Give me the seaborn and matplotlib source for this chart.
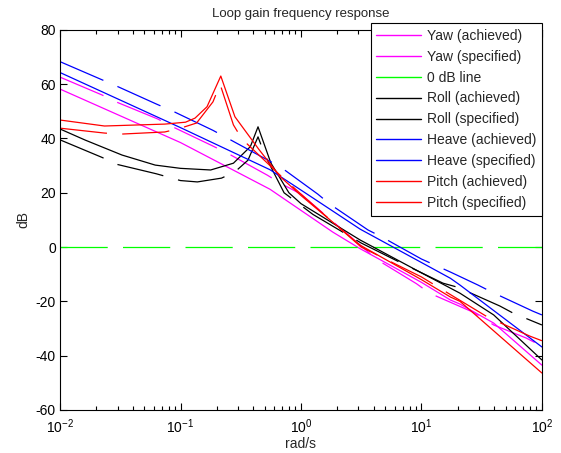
import matplotlib
matplotlib.use("Agg")
import matplotlib.pyplot as plt
from matplotlib.lines import Line2D
from matplotlib.ticker import LogLocator, NullFormatter
import seaborn as sns
import pandas as pd

# frequencies (rad/s) and gains (dB)
yaw_ach_w = [0.01, 0.1, 0.553, 1.84, 3.1, 10, 17.4, 20.9, 39.8, 100]
yaw_ach_db = [58.2, 38.5, 21.3, 5.5, -0.6, -13, -19.5, -21, -28, -43.5]

yaw_spec_w = [0.01, 0.0224, 0.0295, 0.0646, 0.087, 0.186, 0.245, 0.525, 0.67, 1,
              2, 4.27, 9.1, 11.7, 26.9, 39.8, 74, 100]
yaw_spec_db = [62.6, 56, 53.4, 47.2, 44.2, 37.2, 34.6, 26.5, 23.6, 19.5,
               8, -4.6, -13.5, -17, -24, -28.7, -33.5, -36.5]

zero_w = [0.01, 100]
zero_db = [0, 0]

roll_ach_w = [0.01, 0.0162, 0.0327, 0.0617, 0.1, 0.178, 0.275, 0.38, 0.44, 0.562,
              0.794, 1, 3.1, 10, 20.9, 39.8, 100]
roll_ach_db = [43.5, 39.4, 33.9, 30.2, 29, 28.4, 30.9, 37, 44.3, 31,
               20, 16, 2.6, -9.5, -17, -25, -41.6]

roll_spec_w = [0.01, 0.0224, 0.0295, 0.063, 0.1, 0.138, 0.219, 0.283, 0.363, 0.44,
               0.5, 0.724, 1.26, 3.16, 6.9, 15.1, 20, 44.7, 57.5, 100]
roll_spec_db = [39.5, 33, 30.5, 27, 24.5, 24, 25.4, 27.7, 32, 40.6,
                34, 20, 12, 1.5, -6, -13.3, -14.8, -21.7, -24.3, -28.7]

heave_ach_w = [0.01, 0.1, 0.553, 1, 3.1, 17.4, 20.9, 100]
heave_ach_db = [64.3, 44, 28.5, 21, 6.6, -11.5, -14, -36.8]

heave_spec_w = [0.01, 0.0295, 0.063, 0.087, 0.186, 0.676, 1.38, 1.74, 3.6, 4.7,
                10, 13.5, 17.4, 29.5, 38.5, 84, 100]
heave_spec_db = [68.3, 59.3, 52.7, 50, 43, 29.5, 19.5, 15.8, 6.3, 3.7,
                 -4.4, -7, -9.2, -14, -16.6, -23.6, -25]

pitch_ach_w = [0.01, 0.0234, 0.0741, 0.11, 0.132, 0.166, 0.216, 0.283, 0.447, 0.67,
               1, 3.1, 10, 17.4, 20.9, 100]
pitch_ach_db = [46.8, 44.6, 45.3, 46, 47.5, 51.7, 63, 48, 36, 26,
                19, 0.7, -12, -18.4, -20, -46.4]

pitch_spec_w = [0.01, 0.0234, 0.0316, 0.0741, 0.1, 0.136, 0.186, 0.213, 0.275, 0.324,
                0.67, 1, 3.16, 10, 17.4, 35.5, 79.4, 100]
pitch_spec_db = [43.8, 42, 41.6, 42.4, 43.8, 45.7, 53.5, 60, 45, 39.8,
                 26.5, 19.5, 0, -11, -17.5, -25.8, -32.8, -34.5]

labels = ['Yaw (achieved)', 'Yaw (specified)', '0 dB line',
          'Roll (achieved)', 'Roll (specified)',
          'Heave (achieved)', 'Heave (specified)',
          'Pitch (achieved)', 'Pitch (specified)']
colors = ['#ff00ff', '#ff00ff', '#00ff00', '#000000', '#000000',
          '#0000ff', '#0000ff', '#ff0000', '#ff0000']
dashed = [False, True, True, False, True, False, True, False, True]

series = [(yaw_ach_w, yaw_ach_db), (yaw_spec_w, yaw_spec_db), (zero_w, zero_db),
          (roll_ach_w, roll_ach_db), (roll_spec_w, roll_spec_db),
          (heave_ach_w, heave_ach_db), (heave_spec_w, heave_spec_db),
          (pitch_ach_w, pitch_ach_db), (pitch_spec_w, pitch_spec_db)]

sns.set_style("white")
plt.rcParams['font.family'] = ['Liberation Sans', 'DejaVu Sans']
plt.rcParams['mathtext.fontset'] = 'custom'
plt.rcParams['mathtext.rm'] = 'Liberation Sans'
plt.rcParams['mathtext.it'] = 'Liberation Sans'
plt.rcParams['axes.unicode_minus'] = False

fig = plt.figure(figsize=(5.61, 4.53), dpi=100)
ax = fig.add_axes([0.107, 0.095, 0.859, 0.839])

lw = 0.9
dash = (0, (34 / lw, 11 / lw))
for (w, db), lab, c, d in zip(series, labels, colors, dashed):
    df = pd.DataFrame({'w': w, 'db': db})
    sns.lineplot(data=df, x='w', y='db', ax=ax, color=c, linewidth=lw,
                 linestyle=dash if d else '-', legend=False)

ax.set_xscale('log')
ax.set_xlim(0.01, 100)
ax.set_ylim(-60, 80)
ax.set_yticks(range(-60, 81, 20))
ax.xaxis.set_minor_locator(LogLocator(base=10, subs=range(2, 10), numticks=20))
ax.xaxis.set_minor_formatter(NullFormatter())
ax.tick_params(which='both', direction='in', top=True, right=True,
               bottom=True, left=True, labelsize=10, colors='black', width=0.8)
ax.tick_params(which='major', length=5)
ax.tick_params(which='minor', length=3)
ax.tick_params(axis='x', which='major', pad=5)
ax.tick_params(axis='y', which='major', pad=3)
for s in ax.spines.values():
    s.set_color('black')
    s.set_linewidth(0.8)

ax.set_title('Loop gain frequency response', fontsize=9.5, pad=9)
ax.set_xlabel('rad/s', fontsize=10, labelpad=1)
ax.set_ylabel('dB', fontsize=10, labelpad=4)

handles = [Line2D([], [], color=c, linewidth=1.0) for c in colors]
leg = ax.legend(handles, labels, loc='upper right', bbox_to_anchor=(1.0, 1.018),
                borderaxespad=0, fontsize=10, frameon=True, fancybox=False,
                framealpha=1, edgecolor='black', handlelength=3.2,
                handletextpad=0.45, labelspacing=0.5, borderpad=0.4)
leg.get_frame().set_linewidth(0.8)

fig.savefig('out.png', dpi=100)
